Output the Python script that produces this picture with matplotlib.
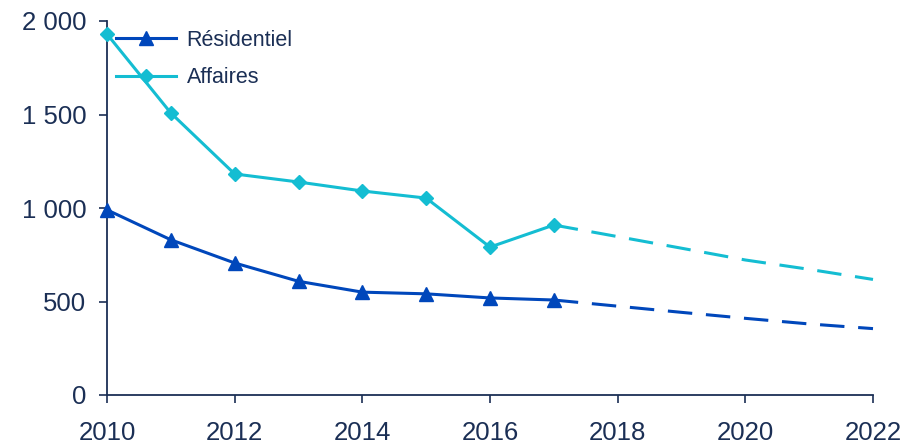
import matplotlib.pyplot as plt
from matplotlib.ticker import FuncFormatter

plt.rcParams['font.family'] = ['Liberation Sans', 'DejaVu Sans']

years = [2010, 2011, 2012, 2013, 2014, 2015, 2016, 2017]
residentiel = [990, 830, 706, 608, 550, 541, 519, 508]
affaires = [1930, 1508, 1182, 1139, 1091, 1053, 791, 909]

proj_years = [2017, 2018, 2019, 2020, 2021, 2022]
residentiel_proj = [508, 475, 442, 410, 380, 355]
affaires_proj = [909, 847, 785, 722, 672, 618]

c_res = '#0047BB'
c_aff = '#14BDD2'
navy = '#1B2F55'

fig = plt.figure(figsize=(9.13, 4.47), dpi=100)
ax = fig.add_axes([107 / 913, 52 / 447, 766 / 913, 374 / 447])

ax.plot(years, residentiel, color=c_res, lw=2.2, marker='^', ms=10,
        label='Résidentiel', clip_on=False, zorder=4)
ax.plot(years, affaires, color=c_aff, lw=2.2, marker='D', ms=7.5,
        label='Affaires', clip_on=False, zorder=4)
# projections en pointillés
ax.plot(proj_years, residentiel_proj, color=c_res, lw=2.2, dashes=(8, 4.5),
        clip_on=False)
ax.plot(proj_years, affaires_proj, color=c_aff, lw=2.2, dashes=(8, 4.5),
        clip_on=False)

ax.set_xlim(2010, 2022)
ax.set_ylim(0, 2000)
ax.set_xticks(range(2010, 2023, 2))
ax.set_yticks(range(0, 2001, 500))
ax.yaxis.set_major_formatter(FuncFormatter(lambda v, p: f'{int(v):,}'.replace(',', ' ')))

for s in ['top', 'right']:
    ax.spines[s].set_visible(False)
for s in ['left', 'bottom']:
    ax.spines[s].set_color(navy)
    ax.spines[s].set_linewidth(1.3)
ax.tick_params(axis='both', colors=navy, labelcolor=navy, labelsize=18.5,
               direction='out', length=6, width=1.2)
ax.tick_params(axis='x', pad=13)
ax.tick_params(axis='y', pad=9)

leg = ax.legend(loc='upper left', frameon=False, fontsize=15.5,
                handlelength=2.8, handletextpad=0.5, labelspacing=0.78,
                borderaxespad=0, borderpad=0.4)
for t in leg.get_texts():
    t.set_color(navy)

fig.savefig('out.png', dpi=100)
